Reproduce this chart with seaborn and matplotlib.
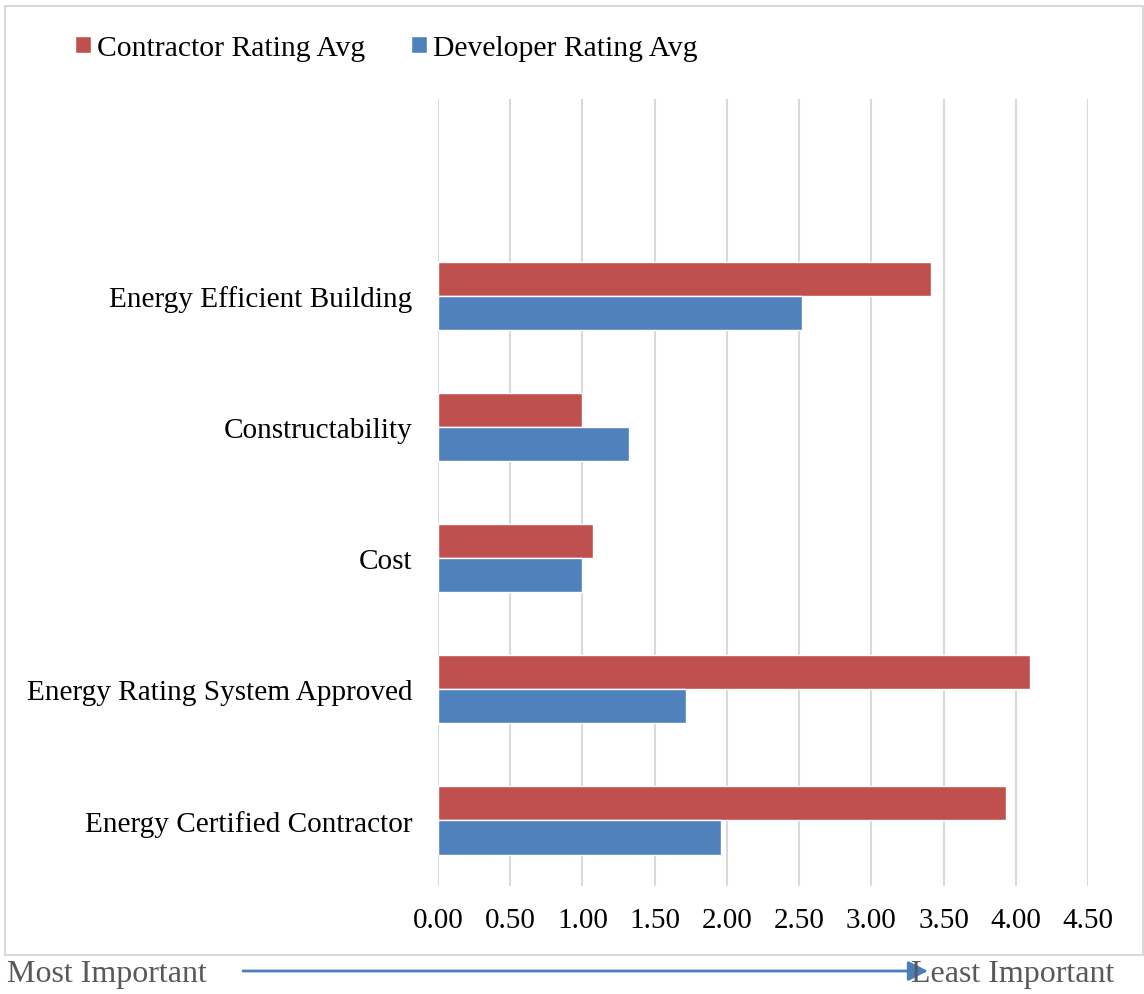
# Ranking of factors - contractor vs developer average ratings
import pandas as pd
import numpy as np
import matplotlib
matplotlib.use('Agg')
import matplotlib.pyplot as plt
import seaborn as sns
from matplotlib.patches import Rectangle, FancyArrowPatch

factors = ['Energy Efficient Building', 'Constructability', 'Cost',
           'Energy Rating System Approved', 'Energy Certified Contractor']
contractor = [3.41, 1.00, 1.07, 4.10, 3.93]
developer = [2.52, 1.32, 1.00, 1.72, 1.96]
series = ['Contractor Rating Avg', 'Developer Rating Avg']
xticks = [0.0, 0.5, 1.0, 1.5, 2.0, 2.5, 3.0, 3.5, 4.0, 4.5]

df = pd.DataFrame({'Factor': factors,
                   series[0]: contractor,
                   series[1]: developer})
long_df = df.melt(id_vars='Factor', var_name='Series', value_name='Rating')

sns.set_style('white')
plt.rcParams['font.family'] = ['Liberation Serif', 'DejaVu Serif']
plt.rcParams['text.color'] = 'black'
plt.rcParams['xtick.color'] = 'black'
plt.rcParams['ytick.color'] = 'black'

fig = plt.figure(figsize=(11.44, 9.95), dpi=100)
ax = fig.add_axes([438/1144, 1 - 887/995, 650/1144, 787/995])

sns.barplot(data=long_df, y='Factor', x='Rating', hue='Series',
            order=factors, hue_order=series,
            palette=['#C0504D', '#4F81BD'], width=0.52,
            saturation=1, ax=ax, zorder=3)

ax.set_xlim(0, 4.5)
ax.set_ylim(4.5, -1.5)
ax.set_xticks(xticks)
ax.set_xticklabels(['%.2f' % t for t in xticks])
ax.set_xlabel('')
ax.set_ylabel('')
ax.grid(axis='x', color='#D9D9D9', linewidth=1.5, zorder=0)
ax.grid(axis='y', visible=False)
for s in ax.spines.values():
    s.set_visible(False)
ax.tick_params(axis='y', length=0, pad=18.5, labelsize=21.1, labelcolor='black')
ax.tick_params(axis='x', length=0, pad=15, labelsize=21, labelcolor='black')

handles, labels = ax.get_legend_handles_labels()
ax.get_legend().remove()
fig.legend(handles, labels, loc='center left', bbox_to_anchor=(48/1144, 1 - 49/995),
           ncol=2, frameon=False, fontsize=21.3, handlelength=0.55, handleheight=0.55,
           handletextpad=0.2, columnspacing=1.56, labelcolor='black')

# outer chart border
fig.patches.append(Rectangle((5/1144, 1 - 956/995), 1138/1144, 949/995,
                             transform=fig.transFigure, fill=False,
                             edgecolor='#D9D9D9', linewidth=1.5))

# importance arrow below chart
fig.text(7/1144, 1 - 975/995, 'Most Important', fontsize=23, color='#595959',
         va='center', ha='left')
fig.text(911/1144, 1 - 975/995, 'Least Important', fontsize=23, color='#595959',
         va='center', ha='left')
fig.patches.append(FancyArrowPatch((243/1144, 1 - 972/995), (928/1144, 1 - 972/995),
                                   transform=fig.transFigure, arrowstyle='-|>',
                                   mutation_scale=30, color='#4A7EBB', linewidth=2,
                                   shrinkA=0, shrinkB=0))

fig.savefig('out.png', dpi=100)
